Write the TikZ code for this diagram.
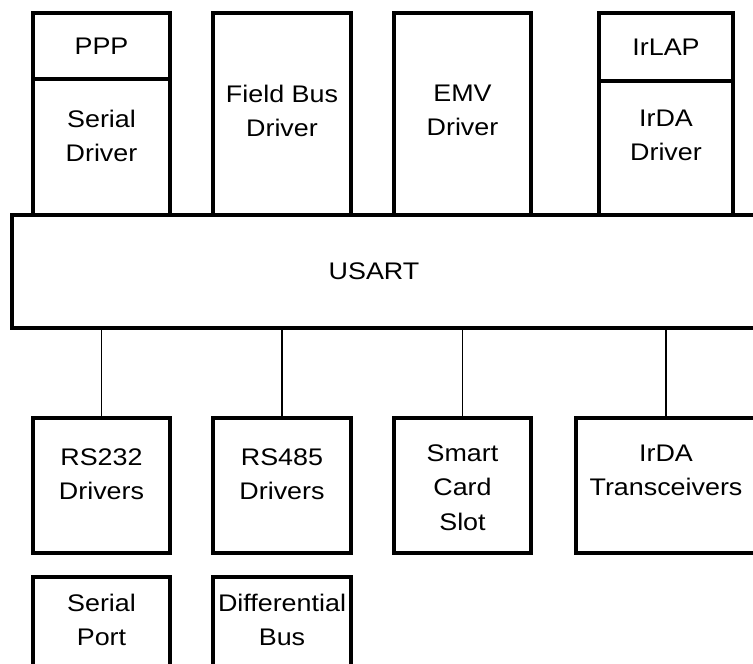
\documentclass[tikz,border=0pt]{standalone}
\usepackage{fontspec}
\setmainfont{Liberation Sans}[FakeStretch=1.12]
\usetikzlibrary{positioning}
\tikzstyle{every node}=[font=\fontsize{24}{34.5}\selectfont]
\tikzstyle{blk}=[draw,line width=3.4pt,outer sep=0pt,inner sep=0pt,align=center]
\tikzstyle{lbl}=[inner sep=0pt,align=center,anchor=north]
\tikzstyle{wire}=[line width=1.4pt]

\begin{document}
\begin{tikzpicture}[x=1pt,y=-1pt]
\useasboundingbox (0,0) rectangle (753,664);
\clip (0,0) rectangle (753,664);
% drivers on top of the usart
\node[blk,minimum width=137pt,minimum height=136pt,
  label={[lbl,yshift=-30.5pt]north:Serial\\Driver}] (serdrv) at (101.5,147) {};
\node[blk,minimum width=137pt,minimum height=66pt,above=0pt of serdrv] (ppp) {PPP};
\node[blk,minimum width=138pt,minimum height=202pt,
  label={[lbl,yshift=-71.5pt]north:Field Bus\\Driver}] (fbus) at (282,114) {};
\node[blk,minimum width=137pt,minimum height=202pt,
  label={[lbl,yshift=-71.5pt]north:EMV\\Driver}] (emv) at (462.5,114) {};
\node[blk,minimum width=134pt,minimum height=134pt,
  label={[lbl,yshift=-28.5pt]north:IrDA\\Driver}] (irdrv) at (666,148) {};
\node[blk,minimum width=134pt,minimum height=68pt,above=0pt of irdrv] (irlap) {IrLAP};
\node[blk,minimum width=750pt,minimum height=113pt,
  label={[inner sep=0pt,xshift=-13pt]center:USART}] (usart) at (387,271.5) {};
% physical side
\node[blk,minimum width=137pt,minimum height=135pt,
  label={[lbl,yshift=-30.5pt]north:RS232\\Drivers}] (rs232) at (101.5,485.5) {};
\node[blk,minimum width=138pt,minimum height=135pt,
  label={[lbl,yshift=-30.5pt]north:RS485\\Drivers}] (rs485) at (282,485.5) {};
\node[blk,minimum width=137pt,minimum height=135pt,
  label={[lbl,yshift=-26.5pt]north:Smart\\Card\\Slot}] (scard) at (462.5,485.5) {};
\node[blk,minimum width=180pt,minimum height=135pt,
  label={[lbl,yshift=-26.5pt]north:IrDA\\Transceivers}] (irtr) at (666,485.5) {};
\node[blk,minimum width=137pt,minimum height=103pt,below=24pt of rs232,
  label={[lbl,yshift=-16.5pt]north:Serial\\Port}] (serport) {};
\node[blk,minimum width=138pt,minimum height=103pt,below=24pt of rs485,
  label={[lbl,yshift=-16.5pt]north:Differential\\Bus}] (diffbus) {};
\foreach \b in {rs232,rs485,scard,irtr}
  \draw[wire] (usart.south -| \b.north) -- (\b.north);
\end{tikzpicture}
\end{document}
